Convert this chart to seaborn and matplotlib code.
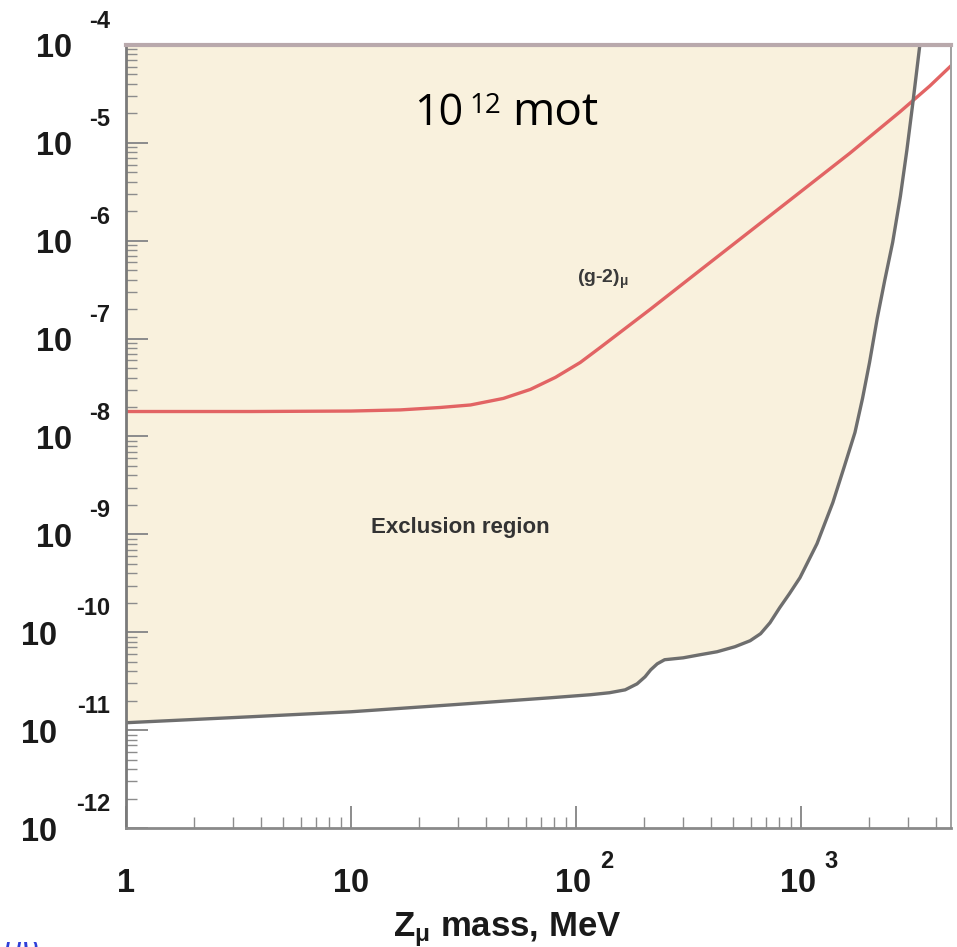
import numpy as np
import pandas as pd
import seaborn as sns
import matplotlib
matplotlib.use("Agg")
import matplotlib.pyplot as plt
import matplotlib.ticker as mticker
from matplotlib.transforms import offset_copy, blended_transform_factory

# ---- data -------------------------------------------------------------
# sensitivity boundary (lower edge of the exclusion region), Z_mu mass in MeV
bound_mass = [1.0, 3.59, 10.0, 27.7, 76.9, 116, 141, 165.6, 187, 203, 215,
              230, 248, 300, 356, 424, 509, 595, 662, 729, 805, 890, 991,
              1180, 1387, 1560, 1740, 1880, 2020, 2185, 2360, 2560, 2770,
              2960, 3150, 3380, 3630]
bound_coupling = [1.19e-11, 1.37e-11, 1.54e-11, 1.81e-11, 2.14e-11, 2.30e-11,
                  2.41e-11, 2.58e-11, 2.97e-11, 3.51e-11, 4.13e-11, 4.76e-11,
                  5.24e-11, 5.48e-11, 5.89e-11, 6.32e-11, 7.11e-11, 8.19e-11,
                  9.66e-11, 1.25e-10, 1.78e-10, 2.48e-10, 3.61e-10, 8.04e-10,
                  2.11e-9, 4.93e-9, 1.10e-8, 2.45e-8, 5.71e-8, 1.61e-7,
                  3.94e-7, 9.66e-7, 2.85e-6, 8.43e-6, 2.61e-5, 1.0e-4, 3.83e-4]

# (g-2)_mu line
g2_mass = [1.0, 3.59, 10.0, 16.6, 25.0, 34.0, 47.6, 62.8, 81.1, 104.6, 128.4,
           165.6, 213.9, 356.4, 594.5, 991, 1652, 2754, 3741, 4688]
g2_coupling = [1.80e-8, 1.80e-8, 1.82e-8, 1.87e-8, 1.98e-8, 2.10e-8, 2.45e-8,
               3.03e-8, 4.02e-8, 5.71e-8, 8.13e-8, 1.27e-7, 1.99e-7, 4.99e-7,
               1.25e-6, 3.13e-6, 7.85e-6, 2.07e-5, 3.81e-5, 6.24e-5]

y_exponents = [-4, -5, -6, -7, -8, -9, -10, -11, -12]
x_tick_values = [1, 10, 100, 1000]
x_tick_bases = ["1", "10", "10", "10"]
x_tick_exps = ["", "", "2", "3"]

bound_df = pd.DataFrame({"mass": bound_mass, "coupling": bound_coupling})
g2_df = pd.DataFrame({"mass": g2_mass, "coupling": g2_coupling})

# ---- style ------------------------------------------------------------
sns.set_theme(style="white")
plt.rcParams["font.family"] = ["Liberation Sans", "DejaVu Sans"]
plt.rcParams["mathtext.fontset"] = "custom"
plt.rcParams["mathtext.rm"] = "Liberation Sans:bold"
plt.rcParams["mathtext.it"] = "Liberation Sans:bold"
plt.rcParams["mathtext.bf"] = "Liberation Sans:bold"
plt.rcParams["mathtext.default"] = "rm"

W, H = 957, 947
fig = plt.figure(figsize=(W / 100, H / 100), dpi=100)
fig.patch.set_facecolor("white")
ax = fig.add_axes([126 / W, 1 - 828 / H, (951 - 126) / W, (828 - 45) / H])
ax.set_facecolor("white")
ax.set_axisbelow(False)

ax.set_xscale("log")
ax.set_yscale("log")
ax.set_xlim(1, 4650)
ax.set_ylim(1e-12, 1e-4)

# exclusion region
ax.fill_between(bound_df["mass"], bound_df["coupling"], 1e-2,
                color="#F9F1DD", lw=0, zorder=1)

sns.lineplot(data=g2_df, x="mass", y="coupling", ax=ax, color="#E26464",
             lw=2.4, sort=False, zorder=3)
sns.lineplot(data=bound_df, x="mass", y="coupling", ax=ax, color="#6E6E6E",
             lw=2.4, sort=False, zorder=4)
ax.set_xlabel("")
ax.set_ylabel("")

# ---- axes frame and ticks --------------------------------------------
for side, col, lw in [("left", "#7A7A7A", 2.0), ("bottom", "#8A8A8A", 2.0),
                      ("top", "#B9A9AC", 3.0), ("right", "#A0A0A0", 1.4)]:
    ax.spines[side].set_visible(True)
    ax.spines[side].set_color(col)
    ax.spines[side].set_linewidth(lw)
    ax.spines[side].set_zorder(6)

ax.xaxis.set_major_locator(mticker.LogLocator(base=10, numticks=50))
ax.xaxis.set_minor_locator(mticker.LogLocator(base=10, subs=np.arange(2, 10), numticks=50))
ax.yaxis.set_major_locator(mticker.LogLocator(base=10, numticks=50))
ax.yaxis.set_minor_locator(mticker.LogLocator(base=10, subs=np.arange(2, 10), numticks=50))
ax.tick_params(which="both", direction="in", bottom=True, left=True,
               top=False, right=False, labelbottom=False, labelleft=False,
               color="#8C8C8C")
ax.tick_params(which="major", length=16, width=1.4)
ax.tick_params(which="minor", length=8, width=1.0)

# ---- tick labels -----------------------------------------------------
ytr = blended_transform_factory(ax.transAxes, ax.transData)
for e in y_exponents:
    v = 10.0 ** e
    base_dx = -54 if abs(e) < 10 else -69
    ax.text(0, v, "10", transform=offset_copy(ytr, fig=fig, x=base_dx, y=-12.5, units="dots"),
            ha="right", va="baseline", fontsize=23.5, fontweight="bold", color="#1A1A1A")
    ax.text(0, v, str(e), transform=offset_copy(ytr, fig=fig, x=-16, y=17, units="dots"),
            ha="right", va="baseline", fontsize=17, fontweight="bold", color="#1A1A1A")

xtr = blended_transform_factory(ax.transData, ax.transAxes)
for v, b, ex in zip(x_tick_values, x_tick_bases, x_tick_exps):
    dx = 0 if ex == "" else -3
    ax.text(v, 0, b, transform=offset_copy(xtr, fig=fig, x=dx, y=-64, units="dots"),
            ha="center", va="baseline", fontsize=23.5, fontweight="bold", color="#1A1A1A")
    if ex:
        ax.text(v, 0, ex, transform=offset_copy(xtr, fig=fig, x=24, y=-40, units="dots"),
                ha="left", va="baseline", fontsize=17, fontweight="bold", color="#1A1A1A")

fig.text(507 / W, 1 - 936 / H, r"Z$_{\mu}$ mass, MeV", ha="center", va="baseline",
         fontsize=25, fontweight="bold", color="#1A1A1A")

# ---- annotations -----------------------------------------------------
fig.text(414 / W, 1 - 125 / H, "10", ha="left", va="baseline",
         fontsize=31, family="Open Sans", color="black")
fig.text(469 / W, 1 - 113 / H, "12", ha="left", va="baseline",
         fontsize=20, family="Open Sans", color="black")
fig.text(512 / W, 1 - 125 / H, "mot", ha="left", va="baseline",
         fontsize=33, family="Open Sans", color="black")

fig.text(603 / W, 1 - 279 / H, r"(g-2)$_{\mu}$", ha="center", va="center",
         fontsize=14, fontweight="bold", color="#3A3A3A")
fig.text(460 / W, 1 - 527 / H, "Exclusion region", ha="center", va="center",
         fontsize=16, fontweight="bold", color="#333333")

fig.text(2 / W, 1 - 938 / H, "μν", ha="left", va="top", fontsize=22,
         style="italic", color="#2F3FD8", family=["DejaVu Sans"])

fig.savefig("out.png", dpi=100, facecolor="white")
